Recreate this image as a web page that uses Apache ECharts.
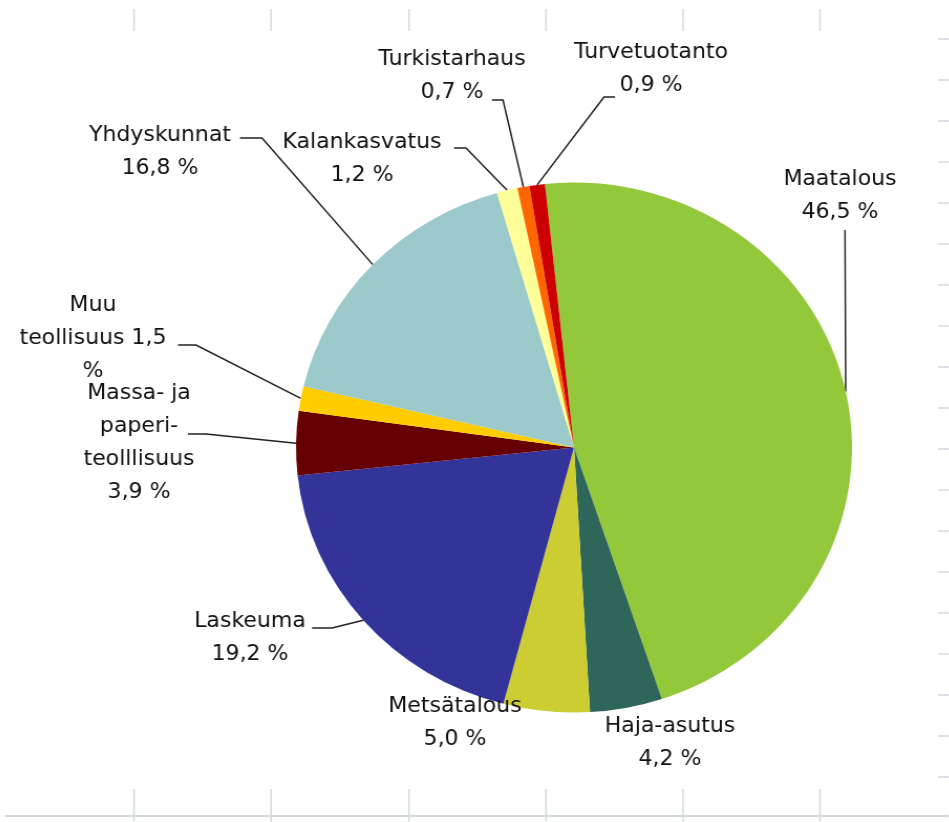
<!DOCTYPE html>
<html>
<head>
<meta charset="utf-8">
<script src="https://cdn.jsdelivr.net/npm/echarts@6/dist/echarts.min.js"></script>
<style>
  html, body { margin: 0; padding: 0; background: #fff; overflow: hidden; }
  /* the source picture is a little wider than tall, so stretch the chart sideways */
  #pie-chart { width: 949px; height: 822px; transform: scaleX(1.049); transform-origin: 574px 0; }
</style>
</head>
<body>
<div id="pie-chart"></div>
<script>
// shares of the load, clockwise from the top
var categories = [
  "Maatalous",
  "Haja-asutus",
  "Metsätalous",
  "Laskeuma",
  "Massa- ja\npaperi-\nteolllisuus",
  "Muu\nteollisuus",
  "Yhdyskunnat",
  "Kalankasvatus",
  "Turkistarhaus",
  "Turvetuotanto"
];
var shares = [46.5, 4.2, 5.0, 19.2, 3.9, 1.5, 16.8, 1.2, 0.7, 0.9];

var sliceColors = [
  "#93c83b", "#2e6659", "#cccc33", "#33339a", "#660000",
  "#ffcc00", "#9cc9c9", "#ffff99", "#ff6600", "#cc0000"
];

// label centres and the two inner points of each leader line, in page pixels (null = no line)
var labelPos = [
  [840, 196], [670, 743], [455, 723], [250, 638], [139, 443],
  [93, 339], [160, 152], [362, 159], [452, 76], [651, 69]
];
var leaderBends = [
  [[845, 232], [845, 230]],
  null,
  null,
  [[332, 628], [312, 628]],
  [[206, 434], [188, 434]],
  [[196, 345], [178, 345]],
  [[262, 138], [240, 138]],
  [[466, 148], [454, 148]],
  [[503, 100], [492, 100]],
  [[604, 97], [615, 97]]
];

var STRETCH = 1.049;
var ORIGIN_X = 574;
// page x -> chart x (undo the sideways stretch)
function cx(x) {
  return ORIGIN_X + (x - ORIGIN_X) / STRETCH;
}

function fmt(v) {
  return v.toFixed(1).replace(".", ",");
}

var pieData = [];
for (var i = 0; i < categories.length; i++) {
  pieData.push({
    name: categories[i],
    value: shares[i],
    itemStyle: { color: sliceColors[i] },
    labelLine: { show: leaderBends[i] !== null }
  });
}

// spreadsheet cell lines peeking around the chart area
var gridGraphics = [];
var gridLineStyle = { stroke: "#d3dae2", lineWidth: 1.5 };
[134, 271, 409, 546, 683, 820].forEach(function (x) {
  gridGraphics.push({ type: "line", shape: { x1: cx(x), y1: 9, x2: cx(x), y2: 31 }, style: gridLineStyle, silent: true });
  gridGraphics.push({ type: "line", shape: { x1: cx(x), y1: 789, x2: cx(x), y2: 822 }, style: gridLineStyle, silent: true });
});
gridGraphics.push({ type: "line", shape: { x1: cx(5), y1: 816, x2: cx(949), y2: 816 }, style: { stroke: "#d2dad4", lineWidth: 2 }, silent: true });
for (var k = 0; k < 19; k++) {
  var gy = 39 + k * 41;
  gridGraphics.push({ type: "line", shape: { x1: cx(938), y1: gy, x2: cx(949), y2: gy }, style: gridLineStyle, silent: true });
}

var pieChartDom = document.getElementById("pie-chart");
var pieChart = echarts.init(pieChartDom, null, { renderer: "canvas" });

var pieChartOption = {
  animation: false,
  backgroundColor: "#ffffff",
  graphic: gridGraphics,
  series: [
    {
      type: "pie",
      center: [ORIGIN_X, 447.5],
      radius: 265,
      startAngle: 96,
      clockwise: true,
      avoidLabelOverlap: false,
      data: pieData,
      itemStyle: { borderWidth: 0 },
      label: {
        show: true,
        position: "outside",
        color: "#111111",
        fontFamily: "DejaVu Sans",
        fontSize: 21,
        lineHeight: 33,
        align: "center",
        formatter: function (p) {
          var v = fmt(p.value);
          if (p.dataIndex === 5) {
            return "Muu\nteollisuus " + v + "\n%";
          }
          return p.name + "\n" + v + " %";
        }
      },
      labelLine: {
        show: true,
        length: 10,
        length2: 10,
        lineStyle: { color: "#222222", width: 1.5 }
      },
      labelLayout: function (params) {
        var idx = params.dataIndex;
        var out = {
          x: cx(labelPos[idx][0]),
          y: labelPos[idx][1],
          align: "center",
          verticalAlign: "middle"
        };
        if (leaderBends[idx] && params.labelLinePoints) {
          var b = leaderBends[idx];
          out.labelLinePoints = [
            params.labelLinePoints[0],
            [cx(b[0][0]), b[0][1]],
            [cx(b[1][0]), b[1][1]]
          ];
        }
        return out;
      }
    }
  ]
};

pieChart.setOption(pieChartOption);
</script>
</body>
</html>
